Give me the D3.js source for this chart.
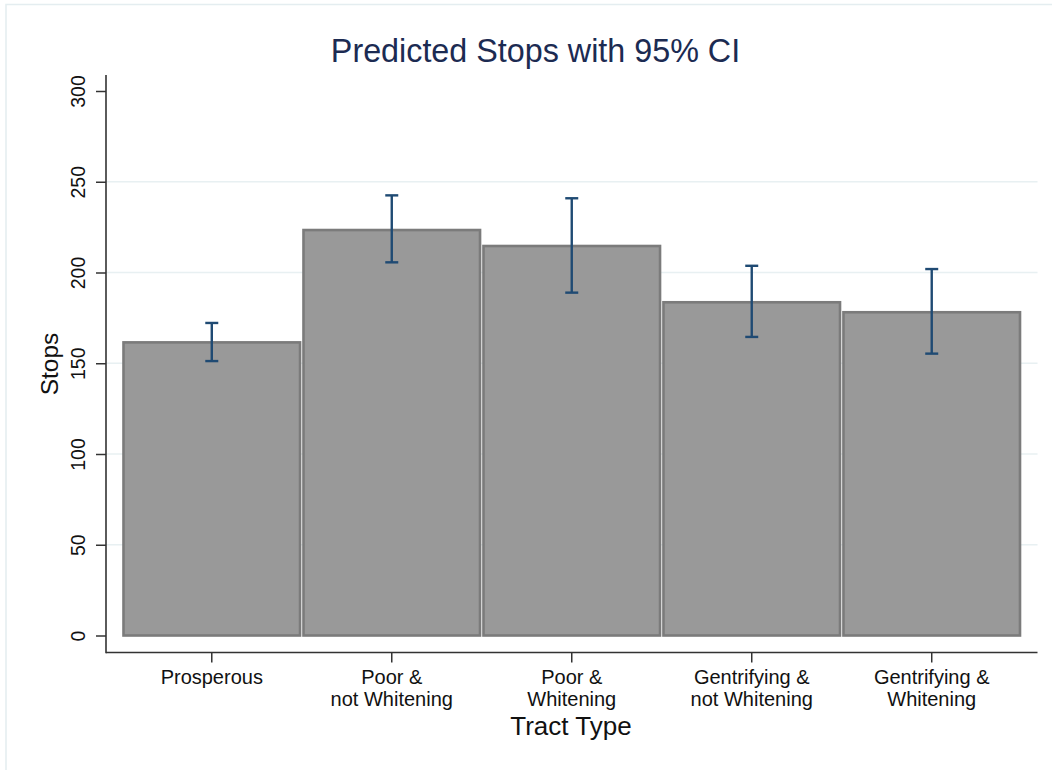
<!DOCTYPE html>
<html>
<head>
<meta charset="utf-8">
<script src="https://cdn.jsdelivr.net/npm/d3@7"></script>
<style>
  html, body { margin: 0; padding: 0; background: #ffffff; }
  svg { display: block; font-family: "Liberation Sans", Arial, Helvetica, sans-serif; }
</style>
</head>
<body>
<svg id="chart" width="1052" height="770"></svg>
<script>
// Tract types (two-line labels) and predicted stops with 95% confidence bounds
const categories = ["Prosperous", "Poor & not Whitening", "Poor & Whitening", "Gentrifying & not Whitening", "Gentrifying & Whitening"];
const categoryLines = [["Prosperous"], ["Poor &", "not Whitening"], ["Poor &", "Whitening"], ["Gentrifying &", "not Whitening"], ["Gentrifying &", "Whitening"]];
const predicted = [161.5, 223.4, 214.6, 183.6, 178.1];
const ciLower = [151.2, 205.6, 188.9, 164.5, 155.3];
const ciUpper = [172.2, 242.5, 240.9, 203.7, 201.9];
const yTicks = [0, 50, 100, 150, 200, 250, 300];
const gridTicks = [50, 100, 150, 200, 250];

const svg = d3.select("#chart");

// Faint outer graph-region frame
svg.append("path")
  .attr("d", "M6,770 L6,4.5 L1052,4.5")
  .attr("fill", "none")
  .attr("stroke", "#e4edf0")
  .attr("stroke-width", 1.5);

const axisX = 106, axisY = 652.5, plotRight = 1037.5, axisTop = 75;

const x = d3.scaleBand().domain(categories).range([122.5, 1021]).paddingInner(0.008).paddingOuter(0);
const y = d3.scaleLinear().domain([0, 300]).range([635.5, 91]);

// Horizontal grid lines
svg.append("g").selectAll("line").data(gridTicks).join("line")
  .attr("x1", axisX).attr("x2", plotRight)
  .attr("y1", d => y(d)).attr("y2", d => y(d))
  .attr("stroke", "#e8f0f2").attr("stroke-width", 1.6);

// Bars
svg.append("g").selectAll("rect").data(categories).join("rect")
  .attr("x", d => x(d) + 1)
  .attr("y", (d, i) => y(predicted[i]))
  .attr("width", x.bandwidth() - 2)
  .attr("height", (d, i) => y(0) - y(predicted[i]))
  .attr("fill", "#999999")
  .attr("stroke", "#7b7b7b")
  .attr("stroke-width", 2.6);

// Confidence interval whiskers
const ci = svg.append("g").attr("stroke", "#1f4a73").attr("stroke-width", 2.4).attr("fill", "none");
categories.forEach((c, i) => {
  const cx = x(c) + x.bandwidth() / 2;
  ci.append("line").attr("x1", cx).attr("x2", cx).attr("y1", y(ciUpper[i])).attr("y2", y(ciLower[i]));
  ci.append("line").attr("x1", cx - 6.5).attr("x2", cx + 6.5).attr("y1", y(ciUpper[i])).attr("y2", y(ciUpper[i]));
  ci.append("line").attr("x1", cx - 6.5).attr("x2", cx + 6.5).attr("y1", y(ciLower[i])).attr("y2", y(ciLower[i]));
});

// Y axis
const yAxis = svg.append("g").attr("transform", `translate(${axisX},0)`)
  .call(d3.axisLeft(y).tickValues(yTicks).tickSize(10).tickSizeOuter(0).tickFormat(d3.format("d")));
yAxis.select(".domain").remove();
yAxis.append("line").attr("x1", 0).attr("x2", 0).attr("y1", axisTop).attr("y2", axisY + 0.75)
  .attr("stroke", "#333333").attr("stroke-width", 1.6);
yAxis.selectAll(".tick line").attr("stroke", "#333333").attr("stroke-width", 1.5);
yAxis.selectAll(".tick text")
  .attr("x", null).attr("dy", null)
  .attr("transform", "translate(-21,0) rotate(-90)")
  .attr("text-anchor", "middle")
  .attr("fill", "#111111")
  .style("font-size", "19.5px");

// X axis
const xAxis = svg.append("g").attr("transform", `translate(0,${axisY})`)
  .call(d3.axisBottom(x).tickSize(10).tickSizeOuter(0).tickFormat(""));
xAxis.select(".domain").remove();
xAxis.append("line").attr("x1", axisX).attr("x2", plotRight).attr("y1", 0).attr("y2", 0)
  .attr("stroke", "#333333").attr("stroke-width", 1.6);
xAxis.selectAll(".tick line").attr("stroke", "#333333").attr("stroke-width", 1.5);

// Category labels (two lines)
const lab = svg.append("g").attr("fill", "#111111").style("font-size", "20px").attr("text-anchor", "middle");
categories.forEach((c, i) => {
  const cx = x(c) + x.bandwidth() / 2;
  const t = lab.append("text").attr("x", cx).attr("y", 684);
  categoryLines[i].forEach((ln, j) => {
    t.append("tspan").attr("x", cx).attr("y", 684 + j * 21.5).text(ln);
  });
});

// Axis titles
svg.append("text").attr("x", 571).attr("y", 735).attr("text-anchor", "middle")
  .attr("fill", "#111111").style("font-size", "26px").text("Tract Type");
svg.append("text").attr("transform", "translate(58,364) rotate(-90)").attr("text-anchor", "middle")
  .attr("fill", "#111111").style("font-size", "24.5px").text("Stops");

// Chart title
svg.append("text").attr("x", 535.5).attr("y", 61.5).attr("text-anchor", "middle")
  .attr("fill", "#1c2b52").style("font-size", "32.3px").text("Predicted Stops with 95% CI");
</script>
</body>
</html>
